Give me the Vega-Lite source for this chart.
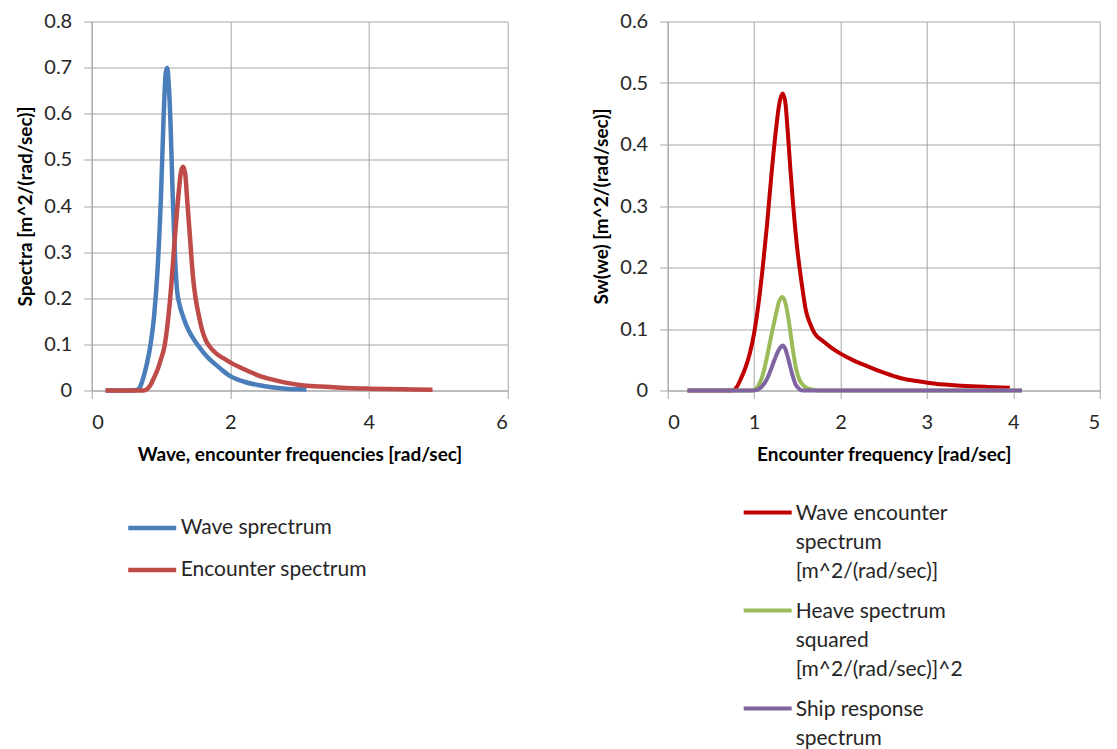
{
  "$schema": "https://vega.github.io/schema/vega-lite/v6.json",
  "background": "white",
  "padding": {"left": 16.7, "top": 11.5, "right": 5, "bottom": 0},
  "config": {
    "font": "Lato",
    "view": {"stroke": null},
    "axis": {
      "gridColor": "#a6a6a6", "gridWidth": 1, "gridOpacity": 1,
      "domainColor": "#a6a6a6", "domainWidth": 1,
      "tickColor": "#a6a6a6", "tickSize": 8, "tickWidth": 1,
      "labelFont": "Lato", "labelFontSize": 20, "labelColor": "#262626",
      "titleFont": "Lato", "titleFontSize": 19, "titleFontWeight": "bold", "titleColor": "#000000"
    },
    "axisX": {"labelPadding": 14, "titlePadding": 13},
    "axisY": {"labelPadding": 12, "titlePadding": 8},
    "legend": {
      "labelFont": "Lato", "labelFontSize": 21, "labelColor": "#262626", "labelLimit": 500,
      "symbolType": "stroke", "symbolSize": 2304, "symbolStrokeWidth": 4.5,
      "labelOffset": 2, "padding": 0, "title": null
    }
  },
  "datasets": {
    "left": [
      {"series": "Wave sprectrum", "w": 0.2, "s": 0},
      {"series": "Wave sprectrum", "w": 0.4, "s": 0},
      {"series": "Wave sprectrum", "w": 0.6, "s": 0},
      {"series": "Wave sprectrum", "w": 0.65, "s": 0.001},
      {"series": "Wave sprectrum", "w": 0.7, "s": 0.008},
      {"series": "Wave sprectrum", "w": 0.75, "s": 0.03},
      {"series": "Wave sprectrum", "w": 0.8, "s": 0.06},
      {"series": "Wave sprectrum", "w": 0.85, "s": 0.1},
      {"series": "Wave sprectrum", "w": 0.9, "s": 0.16},
      {"series": "Wave sprectrum", "w": 0.95, "s": 0.26},
      {"series": "Wave sprectrum", "w": 1.0, "s": 0.42},
      {"series": "Wave sprectrum", "w": 1.04, "s": 0.6},
      {"series": "Wave sprectrum", "w": 1.07, "s": 0.69},
      {"series": "Wave sprectrum", "w": 1.09, "s": 0.7},
      {"series": "Wave sprectrum", "w": 1.11, "s": 0.67},
      {"series": "Wave sprectrum", "w": 1.14, "s": 0.57},
      {"series": "Wave sprectrum", "w": 1.17, "s": 0.42},
      {"series": "Wave sprectrum", "w": 1.2, "s": 0.3},
      {"series": "Wave sprectrum", "w": 1.23, "s": 0.22},
      {"series": "Wave sprectrum", "w": 1.27, "s": 0.185},
      {"series": "Wave sprectrum", "w": 1.32, "s": 0.16},
      {"series": "Wave sprectrum", "w": 1.4, "s": 0.13},
      {"series": "Wave sprectrum", "w": 1.5, "s": 0.105},
      {"series": "Wave sprectrum", "w": 1.6, "s": 0.085},
      {"series": "Wave sprectrum", "w": 1.7, "s": 0.068},
      {"series": "Wave sprectrum", "w": 1.8, "s": 0.055},
      {"series": "Wave sprectrum", "w": 1.9, "s": 0.042},
      {"series": "Wave sprectrum", "w": 2.0, "s": 0.031},
      {"series": "Wave sprectrum", "w": 2.2, "s": 0.019},
      {"series": "Wave sprectrum", "w": 2.4, "s": 0.012},
      {"series": "Wave sprectrum", "w": 2.6, "s": 0.007},
      {"series": "Wave sprectrum", "w": 2.8, "s": 0.004},
      {"series": "Wave sprectrum", "w": 3.0, "s": 0.0025},
      {"series": "Wave sprectrum", "w": 3.1, "s": 0.002},
      {"series": "Encounter spectrum", "w": 0.2, "s": 0},
      {"series": "Encounter spectrum", "w": 0.5, "s": 0},
      {"series": "Encounter spectrum", "w": 0.75, "s": 0},
      {"series": "Encounter spectrum", "w": 0.8, "s": 0.003},
      {"series": "Encounter spectrum", "w": 0.85, "s": 0.012},
      {"series": "Encounter spectrum", "w": 0.9, "s": 0.028},
      {"series": "Encounter spectrum", "w": 0.95, "s": 0.045},
      {"series": "Encounter spectrum", "w": 1.0, "s": 0.068},
      {"series": "Encounter spectrum", "w": 1.05, "s": 0.095},
      {"series": "Encounter spectrum", "w": 1.1, "s": 0.15},
      {"series": "Encounter spectrum", "w": 1.15, "s": 0.23},
      {"series": "Encounter spectrum", "w": 1.2, "s": 0.33},
      {"series": "Encounter spectrum", "w": 1.25, "s": 0.42},
      {"series": "Encounter spectrum", "w": 1.29, "s": 0.475},
      {"series": "Encounter spectrum", "w": 1.32, "s": 0.485},
      {"series": "Encounter spectrum", "w": 1.35, "s": 0.47},
      {"series": "Encounter spectrum", "w": 1.38, "s": 0.41},
      {"series": "Encounter spectrum", "w": 1.42, "s": 0.33},
      {"series": "Encounter spectrum", "w": 1.46, "s": 0.25},
      {"series": "Encounter spectrum", "w": 1.5, "s": 0.2},
      {"series": "Encounter spectrum", "w": 1.55, "s": 0.16},
      {"series": "Encounter spectrum", "w": 1.6, "s": 0.128},
      {"series": "Encounter spectrum", "w": 1.65, "s": 0.108},
      {"series": "Encounter spectrum", "w": 1.7, "s": 0.096},
      {"series": "Encounter spectrum", "w": 1.8, "s": 0.08},
      {"series": "Encounter spectrum", "w": 1.9, "s": 0.07},
      {"series": "Encounter spectrum", "w": 2.0, "s": 0.061},
      {"series": "Encounter spectrum", "w": 2.2, "s": 0.046},
      {"series": "Encounter spectrum", "w": 2.4, "s": 0.033},
      {"series": "Encounter spectrum", "w": 2.6, "s": 0.024},
      {"series": "Encounter spectrum", "w": 2.8, "s": 0.017},
      {"series": "Encounter spectrum", "w": 3.0, "s": 0.012},
      {"series": "Encounter spectrum", "w": 3.3, "s": 0.0085},
      {"series": "Encounter spectrum", "w": 3.6, "s": 0.006},
      {"series": "Encounter spectrum", "w": 4.0, "s": 0.004},
      {"series": "Encounter spectrum", "w": 4.5, "s": 0.0025},
      {"series": "Encounter spectrum", "w": 4.92, "s": 0.0015}
    ],
    "right": [
      {"series": "Wave encounter spectrum [m^2/(rad/sec)]", "w": 0.23, "s": 0},
      {"series": "Wave encounter spectrum [m^2/(rad/sec)]", "w": 0.75, "s": 0},
      {"series": "Wave encounter spectrum [m^2/(rad/sec)]", "w": 0.8, "s": 0.006},
      {"series": "Wave encounter spectrum [m^2/(rad/sec)]", "w": 0.85, "s": 0.02},
      {"series": "Wave encounter spectrum [m^2/(rad/sec)]", "w": 0.9, "s": 0.037},
      {"series": "Wave encounter spectrum [m^2/(rad/sec)]", "w": 0.95, "s": 0.06},
      {"series": "Wave encounter spectrum [m^2/(rad/sec)]", "w": 1.0, "s": 0.093},
      {"series": "Wave encounter spectrum [m^2/(rad/sec)]", "w": 1.05, "s": 0.14},
      {"series": "Wave encounter spectrum [m^2/(rad/sec)]", "w": 1.1, "s": 0.2},
      {"series": "Wave encounter spectrum [m^2/(rad/sec)]", "w": 1.15, "s": 0.27},
      {"series": "Wave encounter spectrum [m^2/(rad/sec)]", "w": 1.2, "s": 0.35},
      {"series": "Wave encounter spectrum [m^2/(rad/sec)]", "w": 1.25, "s": 0.42},
      {"series": "Wave encounter spectrum [m^2/(rad/sec)]", "w": 1.29, "s": 0.465},
      {"series": "Wave encounter spectrum [m^2/(rad/sec)]", "w": 1.33, "s": 0.483},
      {"series": "Wave encounter spectrum [m^2/(rad/sec)]", "w": 1.36, "s": 0.47},
      {"series": "Wave encounter spectrum [m^2/(rad/sec)]", "w": 1.39, "s": 0.42},
      {"series": "Wave encounter spectrum [m^2/(rad/sec)]", "w": 1.42, "s": 0.36},
      {"series": "Wave encounter spectrum [m^2/(rad/sec)]", "w": 1.45, "s": 0.305},
      {"series": "Wave encounter spectrum [m^2/(rad/sec)]", "w": 1.5, "s": 0.23},
      {"series": "Wave encounter spectrum [m^2/(rad/sec)]", "w": 1.55, "s": 0.175},
      {"series": "Wave encounter spectrum [m^2/(rad/sec)]", "w": 1.6, "s": 0.13},
      {"series": "Wave encounter spectrum [m^2/(rad/sec)]", "w": 1.65, "s": 0.108},
      {"series": "Wave encounter spectrum [m^2/(rad/sec)]", "w": 1.7, "s": 0.093},
      {"series": "Wave encounter spectrum [m^2/(rad/sec)]", "w": 1.8, "s": 0.08},
      {"series": "Wave encounter spectrum [m^2/(rad/sec)]", "w": 1.9, "s": 0.069},
      {"series": "Wave encounter spectrum [m^2/(rad/sec)]", "w": 2.0, "s": 0.06},
      {"series": "Wave encounter spectrum [m^2/(rad/sec)]", "w": 2.15, "s": 0.049},
      {"series": "Wave encounter spectrum [m^2/(rad/sec)]", "w": 2.3, "s": 0.04},
      {"series": "Wave encounter spectrum [m^2/(rad/sec)]", "w": 2.5, "s": 0.029},
      {"series": "Wave encounter spectrum [m^2/(rad/sec)]", "w": 2.7, "s": 0.02},
      {"series": "Wave encounter spectrum [m^2/(rad/sec)]", "w": 2.9, "s": 0.015},
      {"series": "Wave encounter spectrum [m^2/(rad/sec)]", "w": 3.1, "s": 0.011},
      {"series": "Wave encounter spectrum [m^2/(rad/sec)]", "w": 3.4, "s": 0.0078},
      {"series": "Wave encounter spectrum [m^2/(rad/sec)]", "w": 3.7, "s": 0.0058},
      {"series": "Wave encounter spectrum [m^2/(rad/sec)]", "w": 3.96, "s": 0.0045},
      {"series": "Heave spectrum squared [m^2/(rad/sec)]^2", "w": 0.23, "s": 0},
      {"series": "Heave spectrum squared [m^2/(rad/sec)]^2", "w": 0.95, "s": 0},
      {"series": "Heave spectrum squared [m^2/(rad/sec)]^2", "w": 1.0, "s": 0.001},
      {"series": "Heave spectrum squared [m^2/(rad/sec)]^2", "w": 1.05, "s": 0.008},
      {"series": "Heave spectrum squared [m^2/(rad/sec)]^2", "w": 1.1, "s": 0.025},
      {"series": "Heave spectrum squared [m^2/(rad/sec)]^2", "w": 1.15, "s": 0.055},
      {"series": "Heave spectrum squared [m^2/(rad/sec)]^2", "w": 1.2, "s": 0.09},
      {"series": "Heave spectrum squared [m^2/(rad/sec)]^2", "w": 1.25, "s": 0.122},
      {"series": "Heave spectrum squared [m^2/(rad/sec)]^2", "w": 1.29, "s": 0.145},
      {"series": "Heave spectrum squared [m^2/(rad/sec)]^2", "w": 1.33, "s": 0.152},
      {"series": "Heave spectrum squared [m^2/(rad/sec)]^2", "w": 1.37, "s": 0.138},
      {"series": "Heave spectrum squared [m^2/(rad/sec)]^2", "w": 1.41, "s": 0.105},
      {"series": "Heave spectrum squared [m^2/(rad/sec)]^2", "w": 1.45, "s": 0.065},
      {"series": "Heave spectrum squared [m^2/(rad/sec)]^2", "w": 1.49, "s": 0.033},
      {"series": "Heave spectrum squared [m^2/(rad/sec)]^2", "w": 1.53, "s": 0.016},
      {"series": "Heave spectrum squared [m^2/(rad/sec)]^2", "w": 1.58, "s": 0.007},
      {"series": "Heave spectrum squared [m^2/(rad/sec)]^2", "w": 1.65, "s": 0.002},
      {"series": "Heave spectrum squared [m^2/(rad/sec)]^2", "w": 1.75, "s": 0},
      {"series": "Heave spectrum squared [m^2/(rad/sec)]^2", "w": 4.1, "s": 0},
      {"series": "Ship response spectrum", "w": 0.23, "s": 0},
      {"series": "Ship response spectrum", "w": 1.0, "s": 0},
      {"series": "Ship response spectrum", "w": 1.05, "s": 0.002},
      {"series": "Ship response spectrum", "w": 1.1, "s": 0.008},
      {"series": "Ship response spectrum", "w": 1.15, "s": 0.019},
      {"series": "Ship response spectrum", "w": 1.2, "s": 0.036},
      {"series": "Ship response spectrum", "w": 1.25, "s": 0.055},
      {"series": "Ship response spectrum", "w": 1.3, "s": 0.069},
      {"series": "Ship response spectrum", "w": 1.33, "s": 0.073},
      {"series": "Ship response spectrum", "w": 1.36, "s": 0.068},
      {"series": "Ship response spectrum", "w": 1.4, "s": 0.049},
      {"series": "Ship response spectrum", "w": 1.44, "s": 0.027},
      {"series": "Ship response spectrum", "w": 1.48, "s": 0.01},
      {"series": "Ship response spectrum", "w": 1.52, "s": 0.003},
      {"series": "Ship response spectrum", "w": 1.56, "s": 0},
      {"series": "Ship response spectrum", "w": 4.1, "s": 0}
    ]
  },
  "spacing": 84,
  "resolve": {"scale": {"color": "independent"}},
  "hconcat": [
    {
      "width": 415.6,
      "height": 369,
      "data": {"name": "left"},
      "mark": {"type": "line", "strokeWidth": 4.5, "interpolate": "monotone"},
      "encoding": {
        "x": {
          "field": "w", "type": "quantitative",
          "scale": {"domain": [0, 6]},
          "axis": {"values": [0, 2, 4, 6], "format": "~g", "title": "Wave, encounter frequencies [rad/sec]"}
        },
        "y": {
          "field": "s", "type": "quantitative",
          "scale": {"domain": [0, 0.8]},
          "axis": {"values": [0, 0.1, 0.2, 0.3, 0.4, 0.5, 0.6, 0.7, 0.8], "format": "~g", "title": "Spectra [m^2/(rad/sec)]"}
        },
        "color": {
          "field": "series", "type": "nominal",
          "scale": {"domain": ["Wave sprectrum", "Encounter spectrum"], "range": ["#4a7ebb", "#be4b48"]},
          "legend": {"orient": "none", "legendX": 34, "legendY": 480, "rowPadding": 5, "labelBaseline": "middle"}
        }
      }
    },
    {
      "width": 432,
      "height": 369,
      "data": {"name": "right"},
      "mark": {"type": "line", "strokeWidth": 4, "interpolate": "monotone"},
      "encoding": {
        "x": {
          "field": "w", "type": "quantitative",
          "scale": {"domain": [0, 5]},
          "axis": {"values": [0, 1, 2, 3, 4, 5], "format": "~g", "title": "Encounter frequency [rad/sec]"}
        },
        "y": {
          "field": "s", "type": "quantitative",
          "scale": {"domain": [0, 0.6]},
          "axis": {"values": [0, 0.1, 0.2, 0.3, 0.4, 0.5, 0.6], "format": "~g", "title": "Sw(we) [m^2/(rad/sec)]"}
        },
        "color": {
          "field": "series", "type": "nominal",
          "scale": {
            "domain": ["Wave encounter spectrum [m^2/(rad/sec)]", "Heave spectrum squared [m^2/(rad/sec)]^2", "Ship response spectrum"],
            "range": ["#c00000", "#9bbb59", "#8064a2"]
          },
          "legend": {
            "orient": "none", "legendX": 74, "legendY": 465, "rowPadding": 2,
            "symbolStrokeWidth": 4,
            "labelBaseline": "top",
            "labelExpr": "datum.label == 'Wave encounter spectrum [m^2/(rad/sec)]' ? ['Wave encounter', 'spectrum', '[m^2/(rad/sec)]'] : datum.label == 'Heave spectrum squared [m^2/(rad/sec)]^2' ? ['Heave spectrum', 'squared', '[m^2/(rad/sec)]^2'] : ['Ship response', 'spectrum']",
            "encoding": {"labels": {"lineHeight": {"value": 29}, "dy": {"value": -9}}}
          }
        }
      }
    }
  ]
}
